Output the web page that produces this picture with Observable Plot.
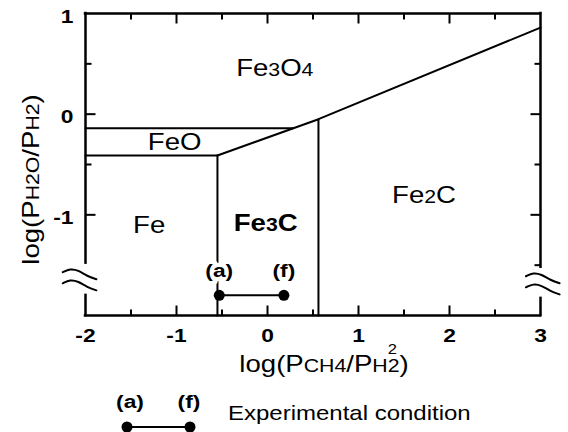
<!DOCTYPE html>
<html>
<head>
<meta charset="utf-8">
<script src="https://cdn.jsdelivr.net/npm/d3@7"></script>
<script src="https://cdn.jsdelivr.net/npm/@observablehq/plot@0.6"></script>
<style>
html, body { margin: 0; padding: 0; background: #fff; }
#chart { width: 568px; height: 432px; overflow: hidden; background: #fff; }
#chart svg { display: block; }
</style>
</head>
<body>
<div id="chart"></div>
<script>
// ---- axis ticks ----
const xTickValues = [-2, -1, 0, 1, 2, 3];
const yTickValues = [1, 0, -1];
const xHalfTicks = [-1.5, -0.5, 0.5, 1.5, 2.5];
const xWholeInnerTicks = [-1, 0, 1, 2];
const yHalfTicksLeft = [0.5, -0.5];
const yHalfTicksRight = [0.5, -0.5, -1.5];
const yWholeInnerTicks = [0, -1];

// ---- broken vertical axes (data units) ----
const leftAxisFrom = [1, -1.80], leftAxisTo = [-1.48, -2];
const rightAxisFrom = [1, -1.83], rightAxisTo = [-1.52, -2];
const breakXLeft = [-2.25, -2.17, -2.08, -1.98, -1.88];
const breakUpperLeft = [-1.57, -1.535, -1.55, -1.61, -1.64];
const breakLowerLeft = [-1.68, -1.645, -1.66, -1.72, -1.75];
const breakXRight = [2.84, 2.92, 3.01, 3.11, 3.21];
const breakUpperRight = [-1.61, -1.575, -1.59, -1.65, -1.68];
const breakLowerRight = [-1.72, -1.685, -1.70, -1.76, -1.79];

// ---- phase boundaries ----
const feoUpperX = [-2, 0.28], feoUpperY = [-0.14, -0.14];
const feoLowerX = [-2, -0.55], feoLowerY = [-0.41, -0.41];
const oxideCarbideX = [-0.55, 0.56, 3], oxideCarbideY = [-0.41, -0.05, 0.86];
const feFe3cX = [-0.55, -0.55], feFe3cY = [-0.41, -2];
const fe3cFe2cX = [0.56, 0.56], fe3cFe2cY = [-0.05, -2];

// ---- phase region labels ----
const regionNames = ["Fe3O4", "FeO", "Fe", "Fe3C", "Fe2C"];
const regionX = [0.08, -1.02, -1.30, -0.02, 1.72];
const regionY = [0.45, -0.28, -1.11, -1.09, -0.81];

// ---- experimental condition ----
const expX = [-0.53, 0.18];
const expY = [-1.8, -1.8];
const expLabels = ["(a)", "(f)"];
const legendText = "Experimental condition";

// ---- axis titles ----
const xTitleParts = [["log(P", ""], ["CH4", "sub"], ["/P", ""], ["H2", "sub"], ["2", "sup"], [")", "after"]];
const yTitleParts = [["log(P", ""], ["H2O", "sub"], ["/P", ""], ["H2", "sub"], [")", ""]];
const richSpecs = {
  "Fe3O4": [["Fe", ""], ["3", "sub"], ["O", ""], ["4", "sub"]],
  "Fe3C": [["Fe", ""], ["3", "sub"], ["C", ""]],
  "Fe2C": [["Fe", ""], ["2", "sub"], ["C", ""]]
};
const xTitle = xTitleParts.map(d => d[0]).join("");
const yTitle = yTitleParts.map(d => d[0]).join("");
richSpecs[xTitle] = xTitleParts;
richSpecs[yTitle] = yTitleParts;

const FONT = "Liberation Sans, Arial, Helvetica, sans-serif";
const pts = (xs, ys) => xs.map((x, i) => ({x, y: ys[i]}));
const regions = regionNames.map((name, i) => ({name, x: regionX[i], y: regionY[i]}));
const exp = expX.map((x, i) => ({x, y: expY[i], label: expLabels[i]}));

const W = 568, H = 380, mL = 85, mR = 28, mT = 13, mB = 65;
const pw = W - mL - mR, ph = H - mT - mB;
const kx = pw / 5, ky = ph / 3;            // pixels per data unit
const LONG = 10, SHORT = 6;                // tick lengths in px
const frameStyle = {stroke: "black", strokeWidth: 2.5, strokeLinecap: "square"};
const lineStyle = {x: "x", y: "y", stroke: "black", strokeWidth: 2};

// inward tick marks as short links
const xTickSegs = (vals, yEdge, len) => vals.map(v => ({
  x1: v, x2: v, y1: yEdge, y2: yEdge + (yEdge > 0 ? -len / ky : len / ky)
}));
const yTickSegs = (vals, xEdge, len) => vals.map(v => ({
  y1: v, y2: v, x1: xEdge, x2: xEdge + (xEdge > 0 ? -len / kx : len / kx)
}));
const tickSegs = [
  ...xTickSegs(xWholeInnerTicks, -2, LONG),
  ...xTickSegs(xHalfTicks, -2, SHORT),
  ...xTickSegs(xWholeInnerTicks, 1, LONG),
  ...xTickSegs(xHalfTicks, 1, SHORT),
  ...yTickSegs(yWholeInnerTicks, -2, LONG),
  ...yTickSegs(yHalfTicksLeft, -2, SHORT),
  ...yTickSegs(yWholeInnerTicks, 3, LONG),
  ...yTickSegs(yHalfTicksRight, 3, SHORT)
];

const chart = Plot.plot({
  width: W, height: H,
  marginLeft: mL, marginRight: mR, marginTop: mT, marginBottom: mB,
  x: {domain: [-2, 3]},
  y: {domain: [-2, 1]},
  style: {fontFamily: FONT, background: "white", color: "black"},
  marks: [
    // frame
    Plot.ruleY([1, -2], {x1: -2, x2: 3, ...frameStyle}),
    Plot.ruleX(leftAxisFrom, {x: -2, y1: leftAxisFrom, y2: leftAxisTo, ...frameStyle}),
    Plot.ruleX(rightAxisFrom, {x: 3, y1: rightAxisFrom, y2: rightAxisTo, ...frameStyle}),
    // axis breaks
    Plot.line(pts(breakXLeft, breakUpperLeft), {...lineStyle, curve: "basis"}),
    Plot.line(pts(breakXLeft, breakLowerLeft), {...lineStyle, curve: "basis"}),
    Plot.line(pts(breakXRight, breakUpperRight), {...lineStyle, curve: "basis"}),
    Plot.line(pts(breakXRight, breakLowerRight), {...lineStyle, curve: "basis"}),
    // inward ticks
    Plot.link(tickSegs, {x1: "x1", y1: "y1", x2: "x2", y2: "y2", stroke: "black", strokeWidth: 2}),
    // tick labels
    Plot.axisX({ticks: xTickValues, tickSize: 0, tickPadding: 13, tickFormat: d => String(d), fontSize: 19, fontWeight: "bold", label: null}),
    Plot.axisY({ticks: yTickValues, tickSize: 0, tickPadding: 12, tickFormat: d => String(d), fontSize: 19, fontWeight: "bold", label: null, dy: 3}),
    // phase boundaries
    Plot.line(pts(feoUpperX, feoUpperY), lineStyle),
    Plot.line(pts(feoLowerX, feoLowerY), lineStyle),
    Plot.line(pts(oxideCarbideX, oxideCarbideY), lineStyle),
    Plot.line(pts(feFe3cX, feFe3cY), lineStyle),
    Plot.line(pts(fe3cFe2cX, fe3cFe2cY), lineStyle),
    // region labels
    Plot.text(regions.filter(d => d.name !== "Fe3C"), {x: "x", y: "y", text: "name", fontSize: 23, lineAnchor: "middle", fill: "black"}),
    Plot.text(regions.filter(d => d.name === "Fe3C"), {x: "x", y: "y", text: "name", fontSize: 23, fontWeight: "bold", lineAnchor: "middle", fill: "black"}),
    // experimental condition
    Plot.line(exp, lineStyle),
    Plot.dot(exp, {x: "x", y: "y", r: 5.5, fill: "black"}),
    Plot.text(exp, {x: "x", y: "y", text: "label", dy: -24, fontSize: 19, fontWeight: "bold", fill: "black", stroke: "white", strokeWidth: 8}),
    // axis titles
    Plot.text([xTitle], {frameAnchor: "bottom", text: d => d, dx: 11, dy: 49, fontSize: 23, lineAnchor: "middle", textAnchor: "middle", fill: "black"}),
    Plot.text([yTitle], {frameAnchor: "left", text: d => d, rotate: -90, dx: -54, dy: 15, fontSize: 23, lineAnchor: "middle", textAnchor: "middle", fill: "black"})
  ]
});

const root = document.getElementById("chart");
root.appendChild(chart);

// legend
const legend = d3.select(root).append("svg")
  .attr("width", W).attr("height", 432 - H)
  .style("overflow", "visible")
  .attr("font-family", FONT);
const lx = [127, 190], ly = 47;
legend.append("line").attr("x1", lx[0]).attr("x2", lx[1]).attr("y1", ly).attr("y2", ly)
  .attr("stroke", "black").attr("stroke-width", 2);
legend.selectAll("circle").data(lx).join("circle")
  .attr("cx", d => d).attr("cy", ly).attr("r", 5.5).attr("fill", "black");
legend.selectAll("text.lab").data(expLabels).join("text").attr("class", "lab")
  .attr("x", (d, i) => lx[i] + (i ? -1 : 3)).attr("y", 28)
  .attr("text-anchor", "middle").attr("font-size", 19).attr("font-weight", "bold")
  .text(d => d);
legend.append("text").attr("x", 228).attr("y", 40).attr("font-size", 20).text(legendText);

// rich text (subscripts / superscripts)
const NS = "http://www.w3.org/2000/svg";
root.querySelectorAll("text").forEach(t => {
  const spec = richSpecs[t.textContent];
  if (!spec) return;
  const base = parseFloat(getComputedStyle(t).fontSize) || 23;
  const sub = base * 0.77, sup = base * 0.6;
  t.textContent = "";
  for (const [s, kind] of spec) {
    const ts = document.createElementNS(NS, "tspan");
    ts.textContent = s;
    if (kind === "sub") ts.setAttribute("font-size", sub);
    if (kind === "sup") {
      ts.setAttribute("font-size", sup);
      ts.setAttribute("dx", -0.556 * sub);
      ts.setAttribute("dy", -0.78 * base);
    }
    if (kind === "after") {
      ts.setAttribute("dx", 0.556 * (sub - sup));
      ts.setAttribute("dy", 0.78 * base);
    }
    t.appendChild(ts);
  }
});

// horizontal glyph stretch to match the scanned figure's proportions
const S = 1.2;
root.querySelectorAll("text").forEach(t => {
  const x = parseFloat(t.getAttribute("x")) || 0;
  const y = parseFloat(t.getAttribute("y")) || 0;
  const tr = t.getAttribute("transform") || "";
  t.setAttribute("transform", `${tr} translate(${x},${y}) scale(${S},1) translate(${-x},${-y})`.trim());
});
</script>
</body>
</html>
